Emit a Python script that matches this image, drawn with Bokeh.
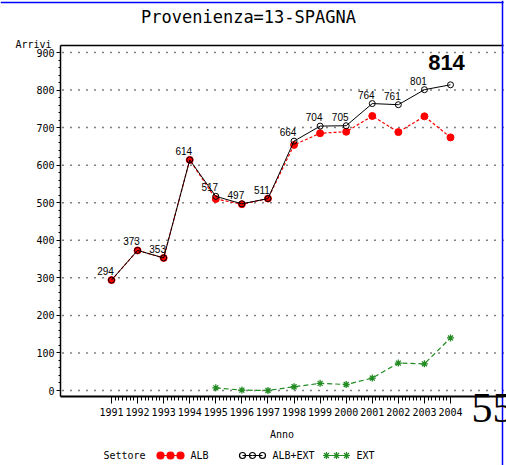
from bokeh.plotting import figure
from bokeh.models import FixedTicker, ColumnDataSource, Range1d
from bokeh.core.properties import value
from bokeh.embed import file_html
from bokeh.resources import INLINE

# ---------------- data ----------------
years = [1991, 1992, 1993, 1994, 1995, 1996, 1997, 1998, 1999, 2000, 2001, 2002, 2003, 2004]
alb_ext = [294, 373, 353, 614, 517, 497, 511, 664, 704, 705, 764, 761, 801, 814]
alb = [294, 373, 353, 614, 510, 496, 511, 654, 685, 689, 731, 688, 730, 674]
ext_years = [1995, 1996, 1997, 1998, 1999, 2000, 2001, 2002, 2003, 2004]
ext = [7, 1, 0, 10, 19, 16, 33, 73, 71, 140]
y_ticks = [0, 100, 200, 300, 400, 500, 600, 700, 800, 900]
title_text = "Provenienza=13-SPAGNA"
y_label = "Arrivi"
x_label = "Anno"
legend_title = "Settore"
series_names = ["ALB", "ALB+EXT", "EXT"]
page_number = "55"

AX_FONT = "DejaVu Sans Mono"
LBL_FONT = "Liberation Sans"
RED = "#ff0000"
GREEN = "#228B22"
BLUE = "#0000ff"

# ---------------- geometry (pixel layout of the page) ----------------
W, H = 506, 465
FL, FR, FT, FB = 60, 503, 45, 396          # axes box
SX = (450 - 111) / (2004 - 1991)           # px per year
SY = (390 - 52) / 900                      # px per unit
X0 = 1991 - 111 / SX
X1 = X0 + W / SX
Y1 = 390 / SY
Y0 = Y1 - H / SY


def xd(px):
    return X0 + px / SX


def yd(py):
    return Y1 - py / SY


p = figure(width=W, height=H, output_backend="svg", toolbar_location=None, title=None,
           x_range=Range1d(X0, X1), y_range=Range1d(Y0, Y1),
           min_border=0, min_border_left=0, min_border_right=0,
           min_border_top=0, min_border_bottom=0)
p.outline_line_color = None
p.grid.visible = False
p.background_fill_color = "white"

# ---------------- axes ----------------
x_minor = [y + k / 7 for y in years[:-1] for k in range(1, 7)]
p.xaxis.ticker = FixedTicker(ticks=years, minor_ticks=x_minor)
y_minor = [v for v in range(20, 900, 20) if v % 100 != 0]
p.yaxis.ticker = FixedTicker(ticks=y_ticks, minor_ticks=y_minor)

p.xaxis.fixed_location = yd(FB)
p.xaxis.bounds = (xd(FL), xd(FR))
p.yaxis.fixed_location = xd(FL)
p.yaxis.bounds = (yd(FB), yd(FT))

for ax in (p.xaxis[0], p.yaxis[0]):
    ax.axis_line_color = "black"
    ax.major_tick_line_color = "black"
    ax.minor_tick_line_color = "black"
    ax.major_tick_in = 0
    ax.minor_tick_in = 0
    ax.major_label_text_font = AX_FONT
    ax.major_label_text_font_size = "10px"
    ax.major_label_text_color = "black"

p.xaxis.axis_line_width = 2
p.xaxis.major_tick_out = 7
p.xaxis.minor_tick_out = 4
p.xaxis.major_label_standoff = 4
p.xaxis.axis_label = x_label
p.xaxis.axis_label_text_font = AX_FONT
p.xaxis.axis_label_text_font_size = "10px"
p.xaxis.axis_label_text_font_style = "normal"
p.xaxis.axis_label_text_color = "black"
p.xaxis.axis_label_standoff = 10

p.yaxis.axis_line_width = 1.5
p.yaxis.major_tick_out = 4
p.yaxis.minor_tick_out = 2
p.yaxis.major_label_standoff = 2

# dotted reference lines at the major y ticks
n = len(y_ticks)
p.segment(x0=[xd(FL + 2)] * n, y0=y_ticks, x1=[xd(FR)] * n, y1=y_ticks,
          line_color="black", line_dash="1 7", line_width=1.5)
# top border of the axes box
p.segment(x0=[xd(FL)], y0=[yd(FT)], x1=[xd(FR)], y1=[yd(FT)], line_color="black", line_width=1.5)
# page-border artefacts (blue)
p.segment(x0=[xd(502)], y0=[yd(0)], x1=[xd(502)], y1=[yd(H)], line_color=BLUE, line_width=1.5)
p.segment(x0=[xd(0)], y0=[yd(2)], x1=[xd(503)], y1=[yd(2)], line_color=BLUE, line_width=1.5)

# ---------------- series ----------------
p.line(years, alb, line_color=RED, line_dash="3 2", line_width=1.2)
p.scatter(years, alb, marker="circle", size=7, fill_color=RED, line_color=RED)
p.line(years, alb_ext, line_color="black", line_width=1)
p.scatter(years, alb_ext, marker="circle", size=6, fill_color=None, line_color="black")
p.line(ext_years, ext, line_color=GREEN, line_dash="5 3", line_width=1.2)
p.scatter(ext_years, ext, marker="asterisk", size=7, line_color=GREEN, line_width=1.3)

# value labels
src = ColumnDataSource(dict(x=years[:-1], y=alb_ext[:-1], t=[str(v) for v in alb_ext[:-1]]))
p.text("x", "y", text="t", source=src, x_offset=-6, y_offset=-9, text_align="center",
       text_baseline="middle", text_font=value(LBL_FONT), text_font_size="10px", text_color="black")
src_last = ColumnDataSource(dict(x=years[-1:], y=alb_ext[-1:], t=[str(v) for v in alb_ext[-1:]]))
p.text("x", "y", text="t", source=src_last, x_offset=-4, y_offset=-22, text_align="center",
       text_baseline="middle", text_font=value(LBL_FONT), text_font_size="22px",
       text_font_style="bold", text_color="black")

# ---------------- texts around the chart ----------------
p.text([xd(248)], [yd(16)], text=[title_text], text_align="center", text_baseline="middle",
       text_font=value("DejaVu Sans Mono"), text_font_size="17px", text_color="black")
p.text([xd(51)], [yd(44)], text=[y_label], text_align="right", text_baseline="middle",
       text_font=value(AX_FONT), text_font_size="10px", text_color="black")
p.text([xd(471)], [yd(407)], text=[page_number], text_align="left", text_baseline="middle",
       text_font=value("Times New Roman"), text_font_size="42px", text_color="black")

# ---------------- legend ----------------
ly = yd(455)
p.text([xd(124)], [ly], text=[legend_title], text_align="center", text_baseline="middle",
       text_font=value(AX_FONT), text_font_size="10px", text_color="black")
styles = [
    dict(x0=160, color=RED, marker="circle", fill=RED, size=7),
    dict(x0=242, color="black", marker="circle", fill=None, size=6),
    dict(x0=326, color=GREEN, marker="asterisk", fill=None, size=7),
]
for name, st in zip(series_names, styles):
    xs = [xd(st["x0"]), xd(st["x0"] + 10), xd(st["x0"] + 20)]
    p.line(xs, [ly] * 3, line_color=st["color"], line_width=1)
    p.scatter(xs, [ly] * 3, marker=st["marker"], size=st["size"], fill_color=st["fill"],
              line_color=st["color"], line_width=1.2)
    p.text([xd(st["x0"] + 30)], [ly], text=[name], text_align="left", text_baseline="middle",
           text_font=value(AX_FONT), text_font_size="10px", text_color="black")

open("out.html", "w").write(file_html(p, INLINE))
